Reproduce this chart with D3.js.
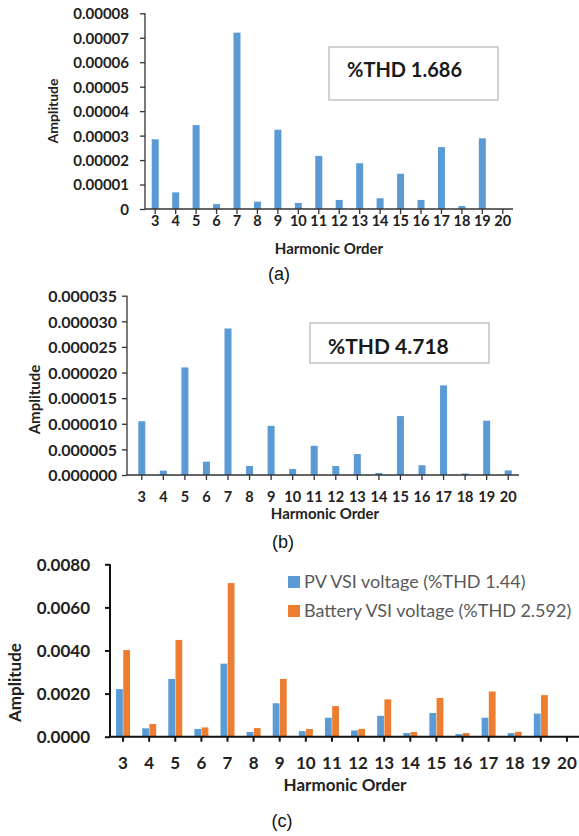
<!DOCTYPE html>
<html>
<head>
<meta charset="utf-8">
<script src="https://cdn.jsdelivr.net/npm/d3@7"></script>
<style>
  body { margin: 0; background: #fff; }
  svg { display: block; }
  text { font-family: Lato, "Open Sans", sans-serif; }
</style>
</head>
<body>
<script>

  // harmonic orders on the x axis (same for all three panels)
  var harmonics = ["3", "4", "5", "6", "7", "8", "9", "10", "11", "12", "13", "14", "15", "16", "17", "18", "19", "20"];

  // (a)
  var ampA = [0.0000285, 0.0000068, 0.0000343, 0.0000020, 0.0000721, 0.0000030, 0.0000324, 0.0000025, 0.0000217,
              0.0000037, 0.0000187, 0.0000044, 0.0000144, 0.0000037, 0.0000253, 0.0000012, 0.0000289, 0];
  var ticksA = [0, 0.00001, 0.00002, 0.00003, 0.00004, 0.00005, 0.00006, 0.00007, 0.00008];
  var thdA = "%THD 1.686";

  // (b)
  var ampB = [0.0000105, 0.00000085, 0.0000210, 0.0000026, 0.0000286, 0.00000176, 0.0000096, 0.00000117, 0.0000057,
              0.00000176, 0.0000041, 0.0000004, 0.0000115, 0.0000019, 0.0000175, 0.0000003, 0.0000106, 0.0000009];
  var ticksB = [0, 0.000005, 0.00001, 0.000015, 0.00002, 0.000025, 0.00003, 0.000035];
  var thdB = "%THD 4.718";

  // (c)
  var pvValues = [0.00221, 0.00039, 0.00268, 0.00036, 0.00339, 0.00022, 0.00155, 0.00026, 0.00088,
                  0.00029, 0.00097, 0.00017, 0.00110, 0.00012, 0.00088, 0.00017, 0.00107, 0];
  var batteryValues = [0.00402, 0.00059, 0.00449, 0.00043, 0.00713, 0.00040, 0.00268, 0.00036, 0.00142,
                       0.00036, 0.00173, 0.00022, 0.00180, 0.00017, 0.00210, 0.00023, 0.00193, 0];
  var ticksC = [0, 0.002, 0.004, 0.006, 0.008];
  var seriesNames = ["PV VSI voltage (%THD 1.44)", "Battery VSI voltage (%THD 2.592)"];

  var blue = "#5B9BD5", orange = "#ED7D31";

  var svg = d3.select("body").append("svg")
      .attr("width", 579)
      .attr("height", 836);

  // one panel: axes, labels, caption
  var panel = function(o) {
    var g = svg.append("g");

    var x = d3.scaleBand().domain(harmonics).range(o.band);
    var y = d3.scaleLinear().domain([0, o.yMax]).range([o.zero, o.top]);

    // y axis
    var ya = g.append("g")
      .attr("transform", "translate(" + o.axisX + ",0)")
      .call(d3.axisLeft(y).tickValues(o.ticks).tickFormat(o.fmt).tickSize(o.tick).tickSizeOuter(0));
    ya.select(".domain").remove();
    ya.selectAll("line").attr("stroke", o.axisColor).attr("stroke-width", o.axisW);
    ya.selectAll("text")
      .attr("x", -o.yLabelGap).attr("dy", "0.36em")
      .style("font-size", o.fs + "px").style("font-weight", 700).attr("fill", "#222");

    // x axis
    var xa = g.append("g")
      .attr("transform", "translate(0," + o.zero + ")")
      .call(d3.axisBottom(x).tickSize(o.tick).tickSizeOuter(0));
    xa.select(".domain").remove();
    xa.selectAll("line").attr("stroke", o.axisColor).attr("stroke-width", o.axisW);
    xa.selectAll("text")
      .attr("y", o.xLabelY - o.zero).attr("dy", 0)
      .style("font-size", (o.xfs || o.fs) + "px").style("font-weight", 700).attr("fill", "#222");

    g.append("line")
      .attr("x1", o.axisX).attr("x2", o.xEnd).attr("y1", o.zero).attr("y2", o.zero)
      .attr("stroke", o.axisColor).attr("stroke-width", o.axisW);
    g.append("line")
      .attr("x1", o.axisX).attr("x2", o.axisX).attr("y1", o.top).attr("y2", o.zero)
      .attr("stroke", o.axisColor).attr("stroke-width", o.axisW);

    g.append("text")
      .attr("transform", "translate(" + o.ampX + "," + o.ampY + ") rotate(-90)")
      .attr("text-anchor", "middle")
      .style("font-size", o.ampFs + "px").style("font-weight", 700).attr("fill", "#222")
      .text("Amplitude");

    g.append("text")
      .attr("x", o.hoX).attr("y", o.hoY)
      .attr("text-anchor", "middle")
      .style("font-size", o.hoFs + "px").style("font-weight", 700).attr("fill", "#222")
      .text("Harmonic Order");

    g.append("text")
      .attr("x", o.capX).attr("y", o.capY)
      .attr("text-anchor", "middle")
      .style("font-family", "'Liberation Sans', Arial, sans-serif")
      .style("font-size", "18px").attr("fill", "#111")
      .text(o.caption);

    return { g: g, x: x, y: y };
  };

  var single = function(p, values, bw) {
    p.g.insert("g", ":first-child").selectAll("rect")
      .data(values)
      .enter().append("rect")
      .attr("x", function(d, i) { return p.x(harmonics[i]) + p.x.bandwidth() / 2 - bw / 2; })
      .attr("width", bw)
      .attr("y", function(d) { return p.y(d); })
      .attr("height", function(d) { return p.y(0) - p.y(d); })
      .attr("fill", blue);
  };

  var thdBox = function(p, b) {
    p.g.append("rect")
      .attr("x", b.x).attr("y", b.y).attr("width", b.w).attr("height", b.h)
      .attr("fill", "#fff").attr("stroke", "#c4c4c4").attr("stroke-width", 1.5);
    p.g.append("text")
      .attr("x", b.tx).attr("y", b.ty)
      .style("font-size", b.fs + "px").style("font-weight", 700).attr("fill", "#1a1a1a")
      .text(b.text);
  };

  // ---- (a)
  var pa = panel({
    band: [145, 513], axisX: 145, xEnd: 513, top: 13.3, zero: 209, yMax: 0.00008,
    ticks: ticksA, fmt: function(d) { return d === 0 ? "0" : d.toFixed(5); },
    tick: 5, axisColor: "#333", axisW: 1.3, yLabelGap: 16, fs: 15, xfs: 14.5, xLabelY: 225.5,
    ampX: 57.5, ampY: 111, ampFs: 14, hoX: 329, hoY: 254, hoFs: 15,
    capX: 279, capY: 280, caption: "(a)"
  });
  single(pa, ampA, 7);
  thdBox(pa, { x: 329, y: 47, w: 169, h: 53, tx: 347, ty: 77, fs: 20, text: thdA });

  // ---- (b)
  var pb = panel({
    band: [131, 519], axisX: 127, xEnd: 519, top: 295.7, zero: 475, yMax: 0.000035,
    ticks: ticksB, fmt: function(d) { return d.toFixed(6); },
    tick: 5, axisColor: "#333", axisW: 1.3, yLabelGap: 10, fs: 16, xfs: 14.5, xLabelY: 502,
    ampX: 40, ampY: 399.5, ampFs: 15, hoX: 325, hoY: 519, hoFs: 15,
    capX: 283, capY: 548, caption: "(b)"
  });
  single(pb, ampB, 7);
  thdBox(pb, { x: 310, y: 323, w: 179, h: 40, tx: 328, ty: 354, fs: 21, text: thdB });

  // ---- (c)
  var pc = panel({
    band: [110, 580], axisX: 110, xEnd: 579, top: 564.3, zero: 736.7, yMax: 0.008,
    ticks: ticksC, fmt: function(d) { return d.toFixed(4); },
    tick: 5, axisColor: "#111", axisW: 2, yLabelGap: 20, fs: 17, xLabelY: 769,
    ampX: 21, ampY: 682.5, ampFs: 17, hoX: 345, hoY: 790.5, hoFs: 17,
    capX: 282, capY: 826.5, caption: "(c)"
  });

  var x1 = d3.scaleBand().domain([0, 1]).range([-7, 7]).paddingInner(0.06);
  var colors = [blue, orange];
  var bars = pc.g.insert("g", ":first-child");
  [pvValues, batteryValues].forEach(function(vals, s) {
    bars.append("g").selectAll("rect")
      .data(vals)
      .enter().append("rect")
      .attr("x", function(d, i) { return pc.x(harmonics[i]) + pc.x.bandwidth() / 2 + x1(s); })
      .attr("width", x1.bandwidth())
      .attr("y", function(d) { return pc.y(d); })
      .attr("height", function(d) { return pc.y(0) - pc.y(d); })
      .attr("fill", colors[s]);
  });

  var legend = pc.g.append("g");
  seriesNames.forEach(function(name, s) {
    legend.append("rect")
      .attr("x", 288).attr("y", 576 + s * 29).attr("width", 12).attr("height", 12)
      .attr("fill", colors[s]);
    legend.append("text")
      .attr("x", 304).attr("y", 588.3 + s * 28.4)
      .style("font-size", "18px").attr("fill", "#595959")
      .text(name);
  });

</script>
</body>
</html>
